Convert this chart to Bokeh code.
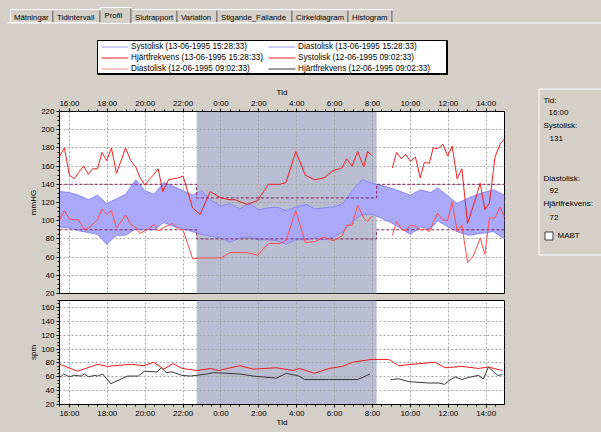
from bokeh.plotting import figure
from bokeh.models import Range1d, FixedTicker, BoxAnnotation
from bokeh.core.properties import value
from bokeh.layouts import column, row
from bokeh.embed import file_html
from bokeh.resources import INLINE

# ---------------- data ----------------
session_a = "13-06-1995 15:28:33"
session_b = "12-06-1995 09:02:33"

x_start = "15:28:33"
x_end = "14:58"
night_start = "22:43"
night_end = "08:13"

sys_limit_day, sys_limit_night = 140, 125
dia_limit_day, dia_limit_night = 90, 80

# blood pressure, session A (band)
bp_a_time = ["15:29", "16:00", "16:29", "17:00", "17:29", "17:58", "18:29", "18:58", "19:30", "19:59",
             "20:28", "20:59", "21:27", "22:00", "22:30", "22:59", "23:26", "00:00", "00:29", "00:59",
             "01:30", "01:59", "02:30", "02:58", "03:26", "03:57", "04:29", "04:57", "05:26", "05:55",
             "06:26", "07:03", "07:27", "08:00", "08:58", "10:00", "10:32", "11:04", "11:26", "11:56",
             "12:28", "13:04", "13:41", "14:23", "14:58"]
bp_a_sys = [132, 131, 128, 123, 128, 119, 124, 129, 145, 133,
            129, 142, 138, 133, 128, 133, 123, 116, 119, 113,
            119, 112, 114, 115, 111, 115, 118, 113, 114, 115,
            119, 136, 145, 141, 136, 128, 134, 131, 136, 128,
            119, 125, 130, 134, 128]
bp_a_dia = [93, 92, 89, 87, 85, 74, 84, 84, 91, 90,
            90, 98, 94, 91, 88, 85, 83, 81, 76, 81,
            82, 79, 79, 78, 74, 79, 79, 81, 79, 82,
            88, 101, 107, 107, 98, 85, 93, 91, 100, 94,
            88, 84, 86, 88, 80]

# blood pressure, session B (red lines); None = no measurement
bp_b_time = ["15:29", "15:44", "16:00", "16:16", "16:29", "16:45", "17:00", "17:13", "17:29", "17:43",
             "17:58", "18:13", "18:29", "18:58", "19:14", "19:30", "19:43", "19:59", "20:12", "20:28",
             "20:41", "20:56", "21:14", "21:27", "21:44", "22:00", "22:30", "22:54", "23:26", "00:00",
             "00:29", "00:45", "01:22", "01:56", "02:30", "03:07", "03:26", "03:57", "04:27", "04:57",
             "05:26", "05:55", "06:23", "06:38", "06:55", "07:13", "07:32", "07:44", "07:57", "08:30",
             "09:03", "09:16", "09:32", "09:45", "10:00", "10:16", "10:31", "10:44", "11:00", "11:12",
             "11:26", "11:43", "11:58", "12:12", "12:28", "12:43", "13:01", "13:19", "13:41", "13:56",
             "14:10", "14:28", "14:44", "14:58"]
bp_b_sys = [171, 180, 150, 146, 153, 160, 151, 157, 157, 175,
            166, 180, 152, 180, 166, 159, 148, 139, 145, 151,
            157, 132, 145, 146, 147, 149, 114, 107, 132, 125,
            123, 123, 118, 122, 140, 140, 142, 176, 150, 145,
            147, 155, 158, 168, 160, 176, 159, 176, 172, None,
            158, 175, 168, 173, 165, 170, 147, 164, 163, 180,
            179, 184, 171, 182, 146, 157, 97, 116, 141, 112,
            119, 170, 184, 190]
bp_b_dia = [101, 111, 102, 101, 101, 91, 91, 96, 101, 113,
            107, 111, 92, 106, 96, 93, 86, 89, 91, 96,
            89, 92, 95, 97, 91, 90, 58, 59, 59, 59,
            65, 65, 65, 62, 75, 75, 78, 111, 76, 77,
            82, 78, 83, 95, 95, 117, 103, 99, 105, None,
            84, 99, 91, 89, 95, 94, 90, 91, 88, 98,
            108, 101, 100, 121, 88, 95, 54, 61, 81, 63,
            103, 103, 115, 104]

# heart rate, session A (red) and session B (dark)
hr_a_time = ["15:29", "16:26", "17:29", "17:59", "19:14", "19:56", "20:26", "20:59", "21:28", "21:57",
             "22:44", "23:26", "23:52", "01:00", "01:42", "02:56", "03:48", "04:09", "04:56", "05:43",
             "06:25", "06:57", "07:55", "08:52", "09:23", "10:05", "11:19", "11:50", "12:43", "13:35",
             "14:07", "14:51"]
hr_a = [78, 68, 78, 75, 78, 76, 81, 71, 79, 72,
        69, 72, 69, 76, 71, 73, 69, 72, 65, 72,
        75, 81, 85, 85, 76, 78, 81, 73, 75, 72,
        74, 69]
hr_b_time = ["15:30", "15:42", "16:00", "16:16", "16:37", "16:47", "17:00", "17:21", "17:29", "17:45",
             "18:11", "19:04", "19:38", "19:58", "20:38", "20:51", "21:07", "21:25", "21:57", "22:23",
             "23:16", "23:36", "01:00", "01:42", "02:56", "03:27", "04:07", "04:25", "05:43", "07:13",
             "07:28", "07:52", "08:30", "08:58", "09:23", "09:55", "10:58", "11:30", "11:48", "12:01",
             "12:22", "12:43", "13:04", "13:35", "13:51", "14:07", "14:36", "14:51"]
hr_b = [59, 64, 60, 62, 61, 64, 60, 62, 61, 64,
        50, 61, 61, 68, 67, 73, 66, 67, 62, 61,
        64, 66, 64, 61, 58, 65, 61, 56, 56, 56,
        59, 64, None, 56, 57, 53, 51, 51, 49, 54,
        60, 56, 59, 62, 57, 74, 62, 63]

time_ticks = ["16:00", "18:00", "20:00", "22:00", "0:00", "2:00", "4:00", "6:00", "8:00",
              "10:00", "12:00", "14:00"]
mmhg_ticks = [20, 40, 60, 80, 100, 120, 140, 160, 180, 200, 220]
spm_ticks = [20, 40, 60, 80, 100, 120, 140, 160]
mmhg_range = (20, 220)
spm_range = (20, 170)

tab_names = ["Mätningar", "Tidintervall", "Profil", "Slutrapport", "Variation",
             "Stigande_Fallande", "Cirkeldiagram", "Histogram"]
active_tab = "Profil"

readout_time = "16:00"
readout_sys = 131
readout_dia = 92
readout_hr = 72
mabt_label = "MABT"

# ---------------- helpers / styles ----------------
def hours(t):
    parts = [int(s) for s in t.split(":")]
    v = parts[0] + parts[1] / 60 + (parts[2] / 3600 if len(parts) > 2 else 0)
    return v + 24 if v < 15 else v

def num(vals):
    return [float("nan") if v is None else v for v in vals]

FONT = "Liberation Sans"
FS_AX = "8px"
FS_LEG = "8.2px"
FS_TAB = "7.8px"
FS_PAN = "8px"
BG = "#d4d0c8"
NIGHT = "#b9bdd2"
BAND_FILL = "#a9a9f8"
BAND_LINE = "#8888f2"
RED = "#f01e1e"
RED_LIGHT = "#ff4c4c"
LEG_RED_LIGHT = "#ff8a8a"
LEG_BLUE = "#9c9cf4"
DARK = "#383838"
LIMIT = "#8b2060"
GRID = "#a4a4a4"

x0, x1 = hours(x_start), hours(x_end)
ns, ne = hours(night_start), hours(night_end)
tick_pos = [hours(t) for t in time_ticks]
overrides = {p: t for p, t in zip(tick_pos, time_ticks)}
minor_x = [tick_pos[0] - 0.5 + 0.5 * i for i in range(48) if x0 <= tick_pos[0] - 0.5 + 0.5 * i <= x1]

W_TOTAL, H_TOTAL = 601, 432
H_HEAD = 80
W_CHART = 520
LB, RB = 59, 16
BGSTYLE = {"background-color": BG}


def canvas_fig(w, h, x_off, y_off):
    """A figure whose frame covers the whole canvas, in page pixel coordinates."""
    return figure(width=w, height=h, x_range=Range1d(x_off, x_off + w), y_range=Range1d(y_off + h, y_off),
                  x_axis_type=None, y_axis_type=None, min_border=0, output_backend="svg",
                  toolbar_location=None, background_fill_color=BG, border_fill_color=BG,
                  outline_line_color=None, styles=BGSTYLE)


def txt(f, x, y, s, size):
    f.text(x=[x], y=[y], text=[s], text_font=value(FONT), text_font_size=value(size),
           text_baseline="middle", text_align="left", text_color="black")


def style(p, yticks, ylabel, yrng, xlabel_standoff):
    p.grid.grid_line_color = GRID
    p.grid.grid_line_dash = "2 2"
    p.xgrid.ticker = FixedTicker(ticks=tick_pos)
    p.ygrid.ticker = FixedTicker(ticks=yticks)
    minor_y = [v for v in range(yrng[0], yrng[1] + 1, 5) if v not in yticks]
    p.yaxis.ticker = FixedTicker(ticks=yticks, minor_ticks=minor_y)
    p.xaxis.ticker = FixedTicker(ticks=tick_pos, minor_ticks=minor_x)
    p.xaxis.major_label_overrides = overrides
    p.xaxis.axis_label = "Tid"
    p.yaxis.axis_label = ylabel
    for ax in p.axis:
        ax.axis_line_color = "black"
        ax.major_tick_line_color = "black"
        ax.minor_tick_line_color = "black"
        ax.major_tick_in = 0
        ax.major_tick_out = 3
        ax.minor_tick_in = 0
        ax.minor_tick_out = 2
        ax.major_label_text_font = FONT
        ax.major_label_text_font_size = FS_AX
        ax.major_label_text_color = "black"
        ax.axis_label_text_font = FONT
        ax.axis_label_text_font_size = FS_AX
        ax.axis_label_text_font_style = "normal"
        ax.axis_label_text_color = "black"
    p.xaxis.major_label_standoff = 1
    p.xaxis.axis_label_standoff = xlabel_standoff
    p.yaxis.major_label_standoff = 2
    p.yaxis.axis_label_standoff = 0
    p.add_layout(BoxAnnotation(left=ns, right=ne, fill_color=NIGHT, fill_alpha=1,
                               line_alpha=0, level="image"))


# ---------------- header: tabs + legend ----------------
pH = canvas_fig(W_TOTAL, H_HEAD, 0, 0)
tab_edges = [10, 53, 100, 131, 177, 217, 292, 348, 392]
ai = tab_names.index(active_tab)
tl = [tab_edges[i] for i in range(len(tab_names))]
tr = [tab_edges[i + 1] for i in range(len(tab_names))]
ttop = [7 if i == ai else 9 for i in range(len(tab_names))]
tbot = [23 if i == ai else 22 for i in range(len(tab_names))]
pH.quad(left=tl, right=tr, top=ttop, bottom=tbot, fill_color=BG, line_color="white", line_width=1)
pH.segment(x0=[r - 0.5 for r in tr], y0=[t + 1 for t in ttop], x1=[r - 0.5 for r in tr], y1=tbot,
           line_color="#404040", line_width=1)
for i, name in enumerate(tab_names):
    txt(pH, tl[i] + (4 if i == ai else 3.5), 14.5 if i == ai else 16.5, name, FS_TAB)
pH.segment(x0=[7, tr[ai]], y0=[22.5, 22.5], x1=[tl[ai], W_TOTAL], y1=[22.5, 22.5],
           line_color="white", line_width=1)

# legend box
leg_labels = [f"Systolisk ({session_a})", f"Diastolisk ({session_a})",
              f"Hjärtfrekvens ({session_a})", f"Systolisk ({session_b})",
              f"Diastolisk ({session_b})", f"Hjärtfrekvens ({session_b})"]
leg_colors = [LEG_BLUE, LEG_BLUE, RED, RED, LEG_RED_LIGHT, DARK]
pH.quad(left=[97], right=[447], top=[40], bottom=[74], fill_color="white",
        line_color="black", line_width=1)
pH.segment(x0=[446.5, 97.5], y0=[40.5, 73.5], x1=[446.5, 447], y1=[74, 73.5], line_color="black",
           line_width=2)
col_x = [101, 268]
row_y = [46, 57, 68]
for i, (lab, colr) in enumerate(zip(leg_labels, leg_colors)):
    cx = col_x[i % 2]
    ry = row_y[i // 2]
    pH.segment(x0=[cx], y0=[ry + 0.5], x1=[cx + 27], y1=[ry + 0.5], line_color=colr, line_width=1)
    txt(pH, cx + 29.5, ry, lab, FS_LEG)

# ---------------- top chart ----------------
HA, TA, BA = 218, 31, 5
pA = figure(width=W_CHART, height=HA, x_range=Range1d(x0, x1), y_range=Range1d(*mmhg_range),
            x_axis_location="above", output_backend="svg", toolbar_location=None,
            min_border_left=LB, min_border_right=RB, min_border_top=TA, min_border_bottom=BA,
            background_fill_color="white", border_fill_color=BG,
            outline_line_color="black", outline_line_alpha=1, styles=BGSTYLE)
style(pA, mmhg_ticks, "mmHG", mmhg_range, -1)

ta = [hours(t) for t in bp_a_time]
tb = [hours(t) for t in bp_b_time]
pA.varea(x=ta, y1=bp_a_dia, y2=bp_a_sys, fill_color=BAND_FILL)
pA.line(ta, bp_a_sys, line_color=BAND_LINE, line_width=1)
pA.line(ta, bp_a_dia, line_color=BAND_LINE, line_width=1)

lim_x = [x0, ns, ns, ne, ne, x1]
pA.line(lim_x, [sys_limit_day, sys_limit_day, sys_limit_night, sys_limit_night, sys_limit_day, sys_limit_day],
        line_color=LIMIT, line_dash="3 2", line_width=1)
pA.line(lim_x, [dia_limit_day, dia_limit_day, dia_limit_night, dia_limit_night, dia_limit_day, dia_limit_day],
        line_color=LIMIT, line_dash="3 2", line_width=1)

pA.line(tb, num(bp_b_sys), line_color=RED, line_width=1)
pA.line(tb, num(bp_b_dia), line_color=RED_LIGHT, line_width=1)

# ---------------- bottom chart ----------------
HB = H_TOTAL - H_HEAD - HA
pB = figure(width=W_CHART, height=HB, x_range=pA.x_range, y_range=Range1d(*spm_range),
            output_backend="svg", toolbar_location=None,
            min_border_left=LB, min_border_right=RB, min_border_top=2, min_border_bottom=28,
            background_fill_color="white", border_fill_color=BG,
            outline_line_color="black", outline_line_alpha=1, styles=BGSTYLE)
style(pB, spm_ticks, "spm", spm_range, -3)
pB.line([hours(t) for t in hr_a_time], hr_a, line_color=RED, line_width=1)
pB.line([hours(t) for t in hr_b_time], num(hr_b), line_color=DARK, line_width=1)

# ---------------- side readout panel ----------------
pS = canvas_fig(W_TOTAL - W_CHART, H_TOTAL - H_HEAD, W_CHART, H_HEAD)
pS.quad(left=[538.5], right=[W_TOTAL + 2], top=[88.5], bottom=[254.5], fill_color=BG,
        line_color="white", line_width=1)
panel_rows = [("Tid:", 543, 100), (readout_time, 548, 111.5), ("Systolisk:", 543, 125),
              (str(readout_sys), 549, 138), ("Diastolisk:", 543, 178), (str(readout_dia), 549, 190),
              ("Hjärtfrekvens:", 543, 203), (str(readout_hr), 549, 217), (mabt_label, 557, 235)]
for s, rx, ry in panel_rows:
    txt(pS, rx, ry, s, FS_PAN)
pS.quad(left=[544.5], right=[552.5], top=[231.5], bottom=[239.5], fill_color="white",
        line_color="#404040", line_width=1)

layout = column(pH, row(column(pA, pB, styles=BGSTYLE), pS, styles=BGSTYLE), styles=BGSTYLE)
open("out.html", "w").write(file_html(layout, INLINE))
